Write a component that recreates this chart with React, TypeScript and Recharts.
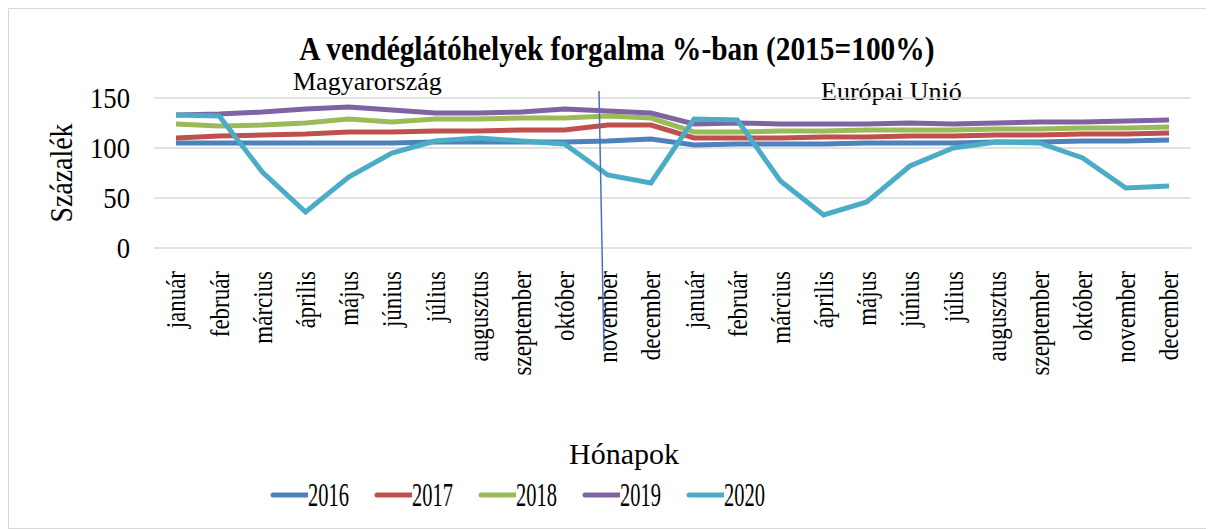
import React from "react";
import { LineChart, Line, XAxis, YAxis, CartesianGrid, Legend } from "recharts";

const months = ["január", "február", "március", "április", "május", "június", "július", "augusztus", "szeptember", "október", "november", "december"];
const categories = [...months, ...months];

const y2016 = [105, 105, 105, 105, 105, 105, 106, 106, 106, 106, 107, 109, 103, 104, 104, 104, 105, 105, 105, 106, 106, 107, 107, 108];
const y2017 = [110, 112, 113, 114, 116, 116, 117, 117, 118, 118, 123, 123, 110, 110, 110, 111, 111, 112, 112, 113, 113, 114, 114, 115];
const y2018 = [124, 122, 123, 125, 129, 126, 129, 129, 130, 130, 132, 130, 116, 116, 117, 117, 118, 118, 118, 119, 119, 120, 120, 121];
const y2019 = [133, 134, 136, 139, 141, 138, 135, 135, 136, 139, 137, 135, 124, 125, 124, 124, 124, 125, 124, 125, 126, 126, 127, 128];
const y2020 = [133, 132, 76, 36, 71, 95, 107, 110, 107, 104, 73, 65, 129, 128, 67, 33, 46, 82, 100, 106, 105, 90, 60, 62];

const yTicks = [0, 50, 100, 150];

const series = [
  { key: "2016", color: "#4F81BD" },
  { key: "2017", color: "#C0504D" },
  { key: "2018", color: "#9BBB59" },
  { key: "2019", color: "#8064A2" },
  { key: "2020", color: "#4BACC6" },
];

const data = categories.map((month, i) => ({
  month,
  "2016": y2016[i],
  "2017": y2017[i],
  "2018": y2018[i],
  "2019": y2019[i],
  "2020": y2020[i],
}));

const FONT = "'Liberation Serif', 'Times New Roman', serif";

// rotated month labels, a bit condensed along the text like in the source
const XTick = (props: any) => {
  const { x, y, payload } = props;
  return (
    <text
      transform={`translate(${x},${y + 15}) rotate(-90) scale(0.85,1)`}
      textAnchor="end"
      dy="0.35em"
      style={{ fontFamily: FONT, fontSize: 27 }}
      fill="#000"
    >
      {payload.value}
    </text>
  );
};

const YTick = (props: any) => {
  const { y, payload } = props;
  return (
    <text
      transform={`translate(121,${y}) scale(0.92,1)`}
      textAnchor="end"
      dy="0.35em"
      style={{ fontFamily: FONT, fontSize: 29 }}
      fill="#000"
    >
      {payload.value}
    </text>
  );
};

const LegendContent = () => (
  <div style={{ height: 40, display: "flex", alignItems: "center", paddingLeft: 261, fontFamily: FONT }}>
    {series.map((s) => (
      <div key={s.key} style={{ width: 104, display: "flex", alignItems: "center" }}>
        <svg width={44} height={10}>
          <line x1={3} y1={5} x2={41} y2={5} stroke={s.color} strokeWidth={5} strokeLinecap="round" />
        </svg>
        <span style={{ fontSize: 33, display: "inline-block", transform: "scaleX(0.62)", transformOrigin: "left center" }}>
          {s.key}
        </span>
      </div>
    ))}
  </div>
);

export default function App() {
  return (
    <div style={{ position: "relative", width: 1198, height: 519, border: "1px solid #d9d9d9", fontFamily: FONT }}>
      <div
        style={{
          position: "absolute",
          left: 0,
          width: 1214,
          top: 22,
          textAlign: "center",
          fontWeight: "bold",
          fontSize: 33,
          lineHeight: "36px",
          transform: "scaleX(0.89)",
          transformOrigin: "615px 50%",
        }}
      >
        A vendéglátóhelyek forgalma %-ban (2015=100%)
      </div>
      <div style={{ position: "absolute", left: 284, top: 58, fontSize: 26, lineHeight: "30px" }}>Magyarország</div>
      <div style={{ position: "absolute", left: 812, top: 68, fontSize: 26, lineHeight: "30px" }}>Európai Unió</div>
      <LineChart width={1198} height={519} data={data} margin={{ top: 89, right: 16, left: 0, bottom: 13 }}>
        <CartesianGrid vertical={false} stroke="#d9d9d9" strokeWidth={1.5} />
        <XAxis
          dataKey="month"
          allowDuplicatedCategory
          axisLine={false}
          tickLine={false}
          interval={0}
          height={227}
          padding={{ left: 22, right: 22 }}
          tick={<XTick />}
          label={(p: any) => (
            <text x={615} y={p.viewBox.y + 205} textAnchor="middle" dy="0.35em" style={{ fontFamily: FONT, fontSize: 30 }} fill="#000">
              Hónapok
            </text>
          )}
        />
        <YAxis
          domain={[0, 150]}
          ticks={yTicks}
          axisLine={false}
          tickLine={false}
          width={145}
          tick={<YTick />}
          label={(p: any) => (
            <text
              transform={`translate(52,${p.viewBox.y + p.viewBox.height / 2}) rotate(-90) scale(0.9,1)`}
              textAnchor="middle"
              dy="0.35em"
              style={{ fontFamily: FONT, fontSize: 31 }}
              fill="#000"
            >
              Százalék
            </text>
          )}
        />
        <Legend verticalAlign="bottom" content={<LegendContent />} />
        {series.map((s) => (
          <Line
            key={s.key}
            type="linear"
            dataKey={s.key}
            stroke={s.color}
            strokeWidth={5}
            dot={false}
            isAnimationActive={false}
          />
        ))}
      </LineChart>
      <svg style={{ position: "absolute", left: 0, top: 0, pointerEvents: "none" }} width={1198} height={519}>
        <line x1={590} y1={82} x2={595} y2={342} stroke="#4472C4" strokeWidth={1.5} />
      </svg>
    </div>
  );
}
